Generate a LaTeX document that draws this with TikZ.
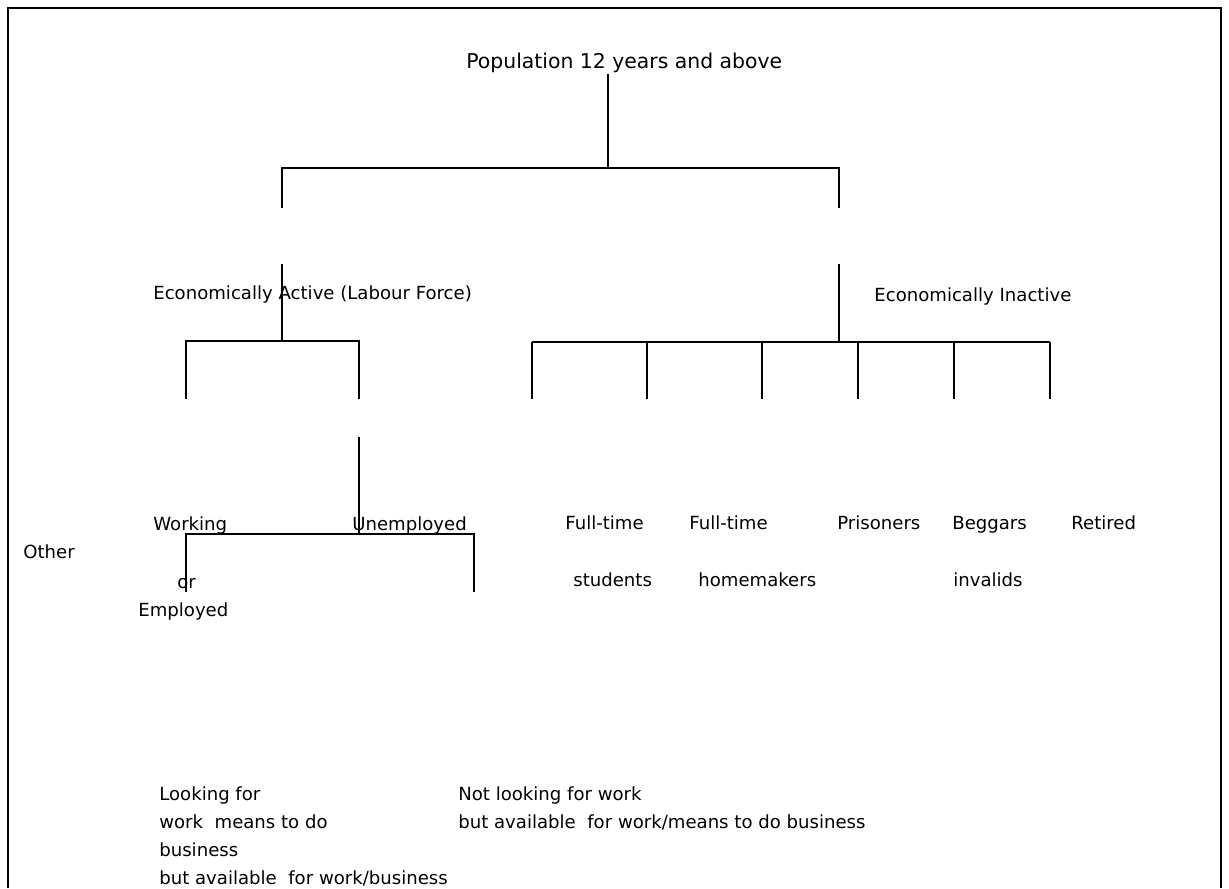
\documentclass[tikz,border=0pt]{standalone}
\usepackage{fontspec}
\setmainfont{DejaVu Sans}
\usetikzlibrary{positioning}

\begin{document}
\begin{tikzpicture}[x=0.02cm, y=-0.02cm,
        lbl/.style={anchor=base west, inner sep=0pt, align=left,
            font=\fontsize{10.3}{15.9}\selectfont},
        branch/.style={line width=0.7pt}]
    \useasboundingbox (0,0) rectangle (1229,888);

    % frame
    \draw[line width=1.3pt] (8,888) -- (8,8) -- (1221,8) -- (1221,888);

    % labels
    \node[lbl, font=\fontsize{11.6}{14}\selectfont] (pop) at (466,69) {Population 12 years and above};
    \node[lbl] (active) at (153,299) {Economically Active (Labour Force)};
    \node[lbl] (inactive) at (874,301) {Economically Inactive};

    \node[lbl] (working) at (153,530) {Working};
    \node[lbl] (unemployed) at (352,530) {Unemployed};
    \node[lbl] (other) at (23,558) {Other};
    \node[lbl] (orword) at (177,588) {or};
    \node[lbl] (employed) at (138,616) {Employed};

    \node[lbl] (fulltimeA) at (565,529) {Full-time};
    \node[lbl] (fulltimeB) at (689,529) {Full-time};
    \node[lbl] (prisoners) at (837,529) {Prisoners};
    \node[lbl] (beggars) at (952,529) {Beggars};
    \node[lbl] (retired) at (1071,529) {Retired};
    \node[lbl] (students) at (573,586) {students};
    \node[lbl] (homemakers) at (698,586) {homemakers};
    \node[lbl] (invalids) at (953,586) {invalids};

    % multi-line labels: base is the last line
    \node[lbl] (looking) at (159,884) {Looking for\\work\ \ means to do\\business\\but available\ \ for work/business};
    \node[lbl] (notlooking) at (458,828) {Not looking for work\\but available\ \ for work/means to do business};

    % branch points
    \coordinate (popTop) at (608,74);
    \coordinate (popBar) at (608,168);
    \coordinate (barL) at (282,168);
    \coordinate (barR) at (839,168);
    \coordinate (dropL) at (282,208);
    \coordinate (dropR) at (839,208);

    \coordinate (actTop) at (282,264);
    \coordinate (actBar) at (282,341);
    \coordinate (actL) at (186,341);
    \coordinate (actR) at (359,341);
    \coordinate (actLend) at (186,399);
    \coordinate (actRend) at (359,399);

    \coordinate (inaTop) at (839,264);
    \coordinate (inaBar) at (839,342);
    \coordinate (inaL) at (532,342);
    \coordinate (inaR) at (1050,342);

    \coordinate (unTop) at (359,437);
    \coordinate (unBar) at (359,534);
    \coordinate (unL) at (186,534);
    \coordinate (unR) at (474,534);
    \coordinate (unLend) at (186,592);
    \coordinate (unRend) at (474,592);

    % tree lines
    \draw[branch] (popTop) -- (popBar);
    \draw[branch] (dropL) -- (barL) -- (barR) -- (dropR);

    \draw[branch] (actTop) -- (actBar);
    \draw[branch] (actLend) -- (actL) -- (actR) -- (actRend);

    \draw[branch] (inaTop) -- (inaBar);
    \draw[branch] (inaL) -- (inaR);
    \foreach \xx in {532,647,762,858,954,1050}
        \draw[branch] (\xx,342) -- (\xx,399);

    \draw[branch] (unTop) -- (unBar);
    \draw[branch] (unLend) -- (unL) -- (unR) -- (unRend);
\end{tikzpicture}
\end{document}
